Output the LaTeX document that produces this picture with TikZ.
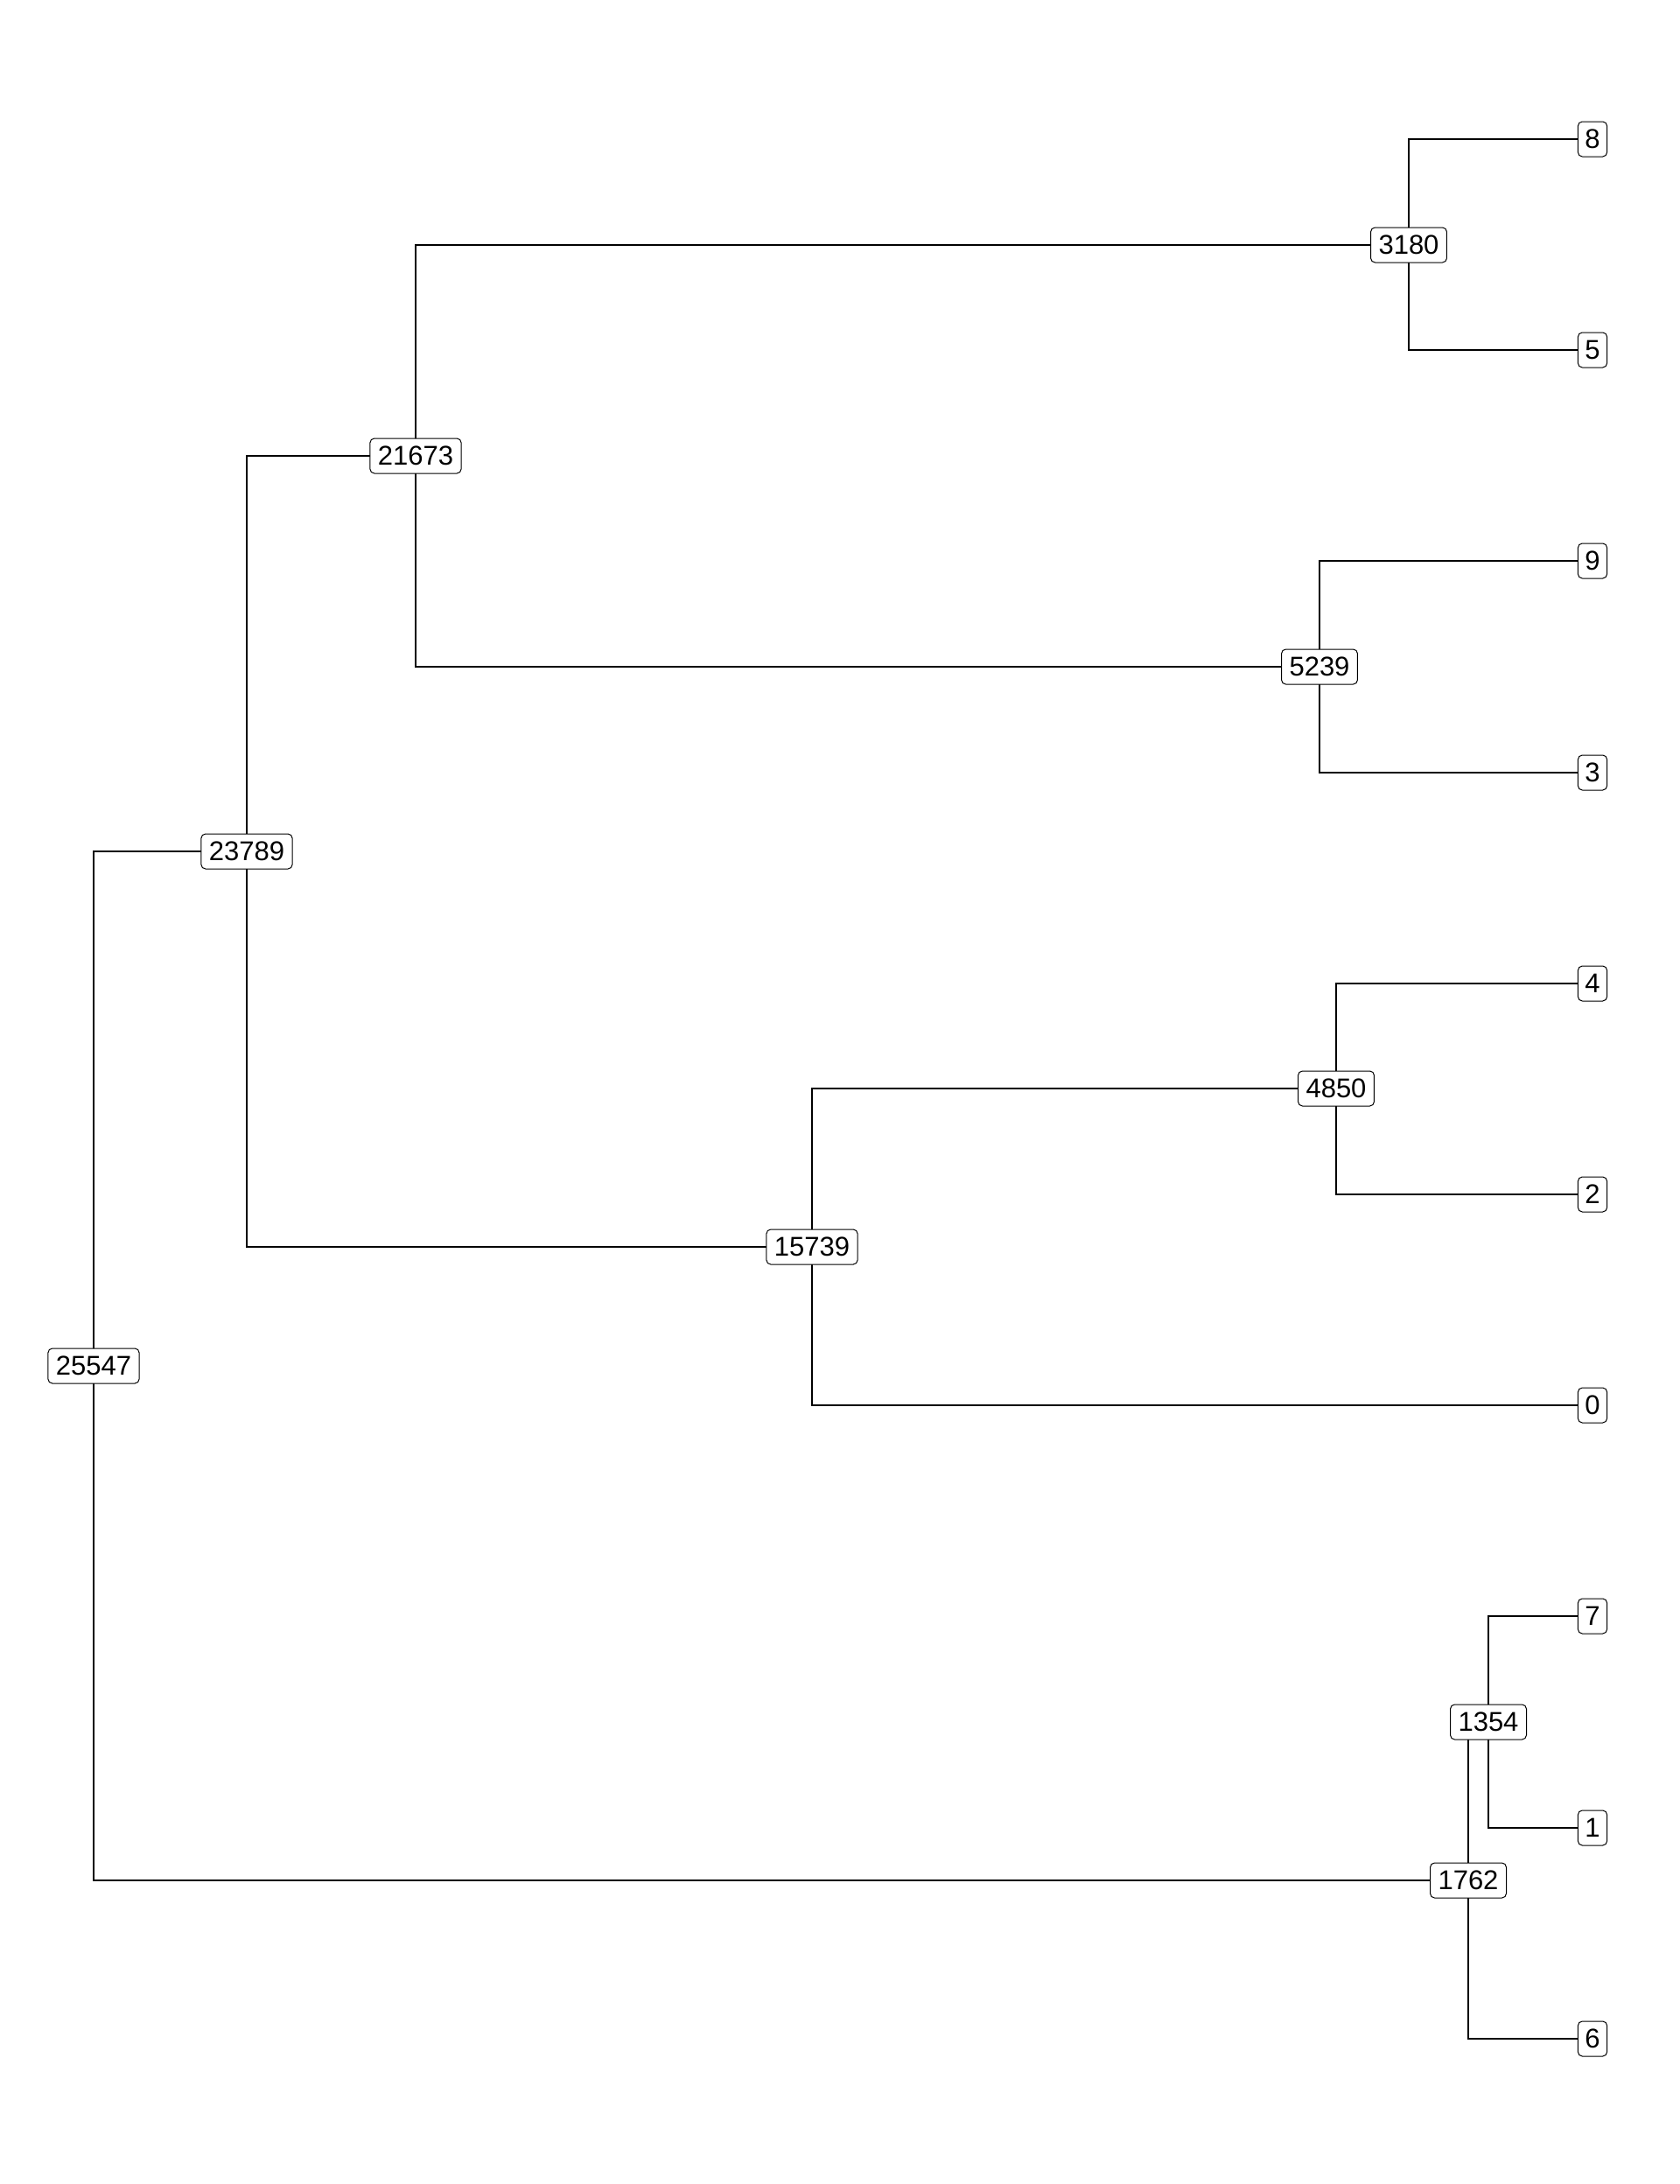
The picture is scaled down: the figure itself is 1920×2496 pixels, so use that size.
\documentclass[tikz,border=0pt]{standalone}
\usepackage{fontspec}
\setmainfont{Liberation Sans}
\usetikzlibrary{backgrounds}

\tikzset{
  merge/.style={draw, fill=white, rounded corners=2.5pt, line width=0.5pt,
    inner xsep=4.5pt, inner ysep=0pt, minimum height=20pt,
    font=\fontsize{15.5}{15.5}\selectfont},
  leaf/.style={merge, inner xsep=4pt},
  link/.style={line width=1.2pt}
}

\begin{document}
\begin{tikzpicture}[x=0.5pt,y=-0.5pt]
    \useasboundingbox (0,0) rectangle (1920,2496);
    % leaves
    \node[leaf] (l8) at (1820,159) {8};
    \node[leaf] (l5) at (1820,400) {5};
    \node[leaf] (l9) at (1820,641) {9};
    \node[leaf] (l3) at (1820,883) {3};
    \node[leaf] (l4) at (1820,1124) {4};
    \node[leaf] (l2) at (1820,1365) {2};
    \node[leaf] (l0) at (1820,1606) {0};
    \node[leaf] (l7) at (1820,1847) {7};
    \node[leaf] (l1) at (1820,2089) {1};
    \node[leaf] (l6) at (1820,2330) {6};
    % merges
    \node[merge] (n3180) at (1610,280) {3180};
    \node[merge] (n5239) at (1508,762) {5239};
    \node[merge] (n21673) at (475,521) {21673};
    \node[merge] (n4850) at (1527,1244) {4850};
    \node[merge] (n15739) at (928,1425) {15739};
    \node[merge] (n23789) at (282,973) {23789};
    \node[merge] (n1354) at (1701,1968) {1354};
    \node[merge] (n1762) at (1678,2149) {1762};
    \node[merge] (n25547) at (107,1561) {25547};
    % links
    \begin{scope}[on background layer]
    \draw[link] (l8.center) -| (n3180.center) |- (l5.center);
    \draw[link] (l9.center) -| (n5239.center) |- (l3.center);
    \draw[link] (n3180.center) -| (n21673.center) |- (n5239.center);
    \draw[link] (l4.center) -| (n4850.center) |- (l2.center);
    \draw[link] (n4850.center) -| (n15739.center) |- (l0.center);
    \draw[link] (n21673.center) -| (n23789.center) |- (n15739.center);
    \draw[link] (l7.center) -| (n1354.center) |- (l1.center);
    \draw[link] (n1354.center) -| (n1762.center) |- (l6.center);
    \draw[link] (n23789.center) -| (n25547.center) |- (n1762.center);
    \end{scope}
\end{tikzpicture}
\end{document}
